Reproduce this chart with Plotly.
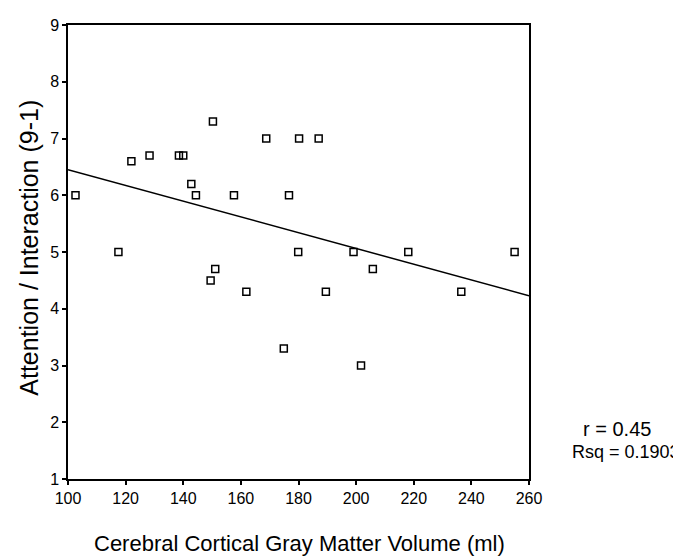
import plotly.graph_objects as go

# Data
gray_matter_ml = [102.6, 122.0, 128.3, 138.5, 140.0, 150.3, 168.8, 180.2, 187.0,
                  142.8, 144.4, 157.6, 176.7, 117.5, 151.1, 149.5, 161.9, 179.9,
                  189.5, 199.1, 205.8, 218.1, 236.5, 255.0, 174.9, 201.7]
attention_score = [6.0, 6.6, 6.7, 6.7, 6.7, 7.3, 7.0, 7.0, 7.0,
                   6.2, 6.0, 6.0, 6.0, 5.0, 4.7, 4.5, 4.3, 5.0,
                   4.3, 5.0, 4.7, 5.0, 4.3, 5.0, 3.3, 3.0]

fit_x = [100, 260]
fit_y = [6.45, 4.23]

x_ticks = [100, 120, 140, 160, 180, 200, 220, 240, 260]
y_ticks = [1, 2, 3, 4, 5, 6, 7, 8, 9]

x_title = "Cerebral Cortical Gray Matter Volume (ml)"
y_title = "Attention / Interaction (9-1)"
r_text = "r = 0.45"
rsq_text = "Rsq = 0.1903"

FONT = "Liberation Sans, Arial, sans-serif"

fig = go.Figure()
fig.add_trace(go.Scatter(
    x=fit_x, y=fit_y, mode="lines",
    line=dict(color="black", width=1.5), showlegend=False, hoverinfo="skip"))
fig.add_trace(go.Scatter(
    x=gray_matter_ml, y=attention_score, mode="markers",
    marker=dict(symbol="square-open", size=7, color="black", line=dict(width=1.5, color="black")),
    showlegend=False))

axis_common = dict(
    showgrid=False, zeroline=False, showline=True, linecolor="black", linewidth=1.5,
    mirror=True, ticks="outside", ticklen=4, tickwidth=1.5, tickcolor="black",
    tickfont=dict(family=FONT, size=16, color="black"),
)

fig.update_xaxes(range=[100, 260], tickvals=x_ticks, ticktext=[str(v) for v in x_ticks], **axis_common)
fig.update_yaxes(range=[1, 9], tickvals=y_ticks, ticktext=[str(v) for v in y_ticks], **axis_common)

fig.add_annotation(text=x_title, xref="paper", yref="paper", x=0.503, y=-0.174,
                   showarrow=False, xanchor="center", yanchor="bottom",
                   font=dict(family=FONT, size=22, color="black"))
fig.add_annotation(text=y_title, xref="paper", yref="paper", x=-0.085, y=0.509,
                   showarrow=False, xanchor="center", yanchor="middle", textangle=-90,
                   font=dict(family=FONT, size=25, color="black"))
fig.add_annotation(text=r_text, xref="paper", yref="paper", x=1.191, y=0.1104,
                   showarrow=False, xanchor="center", yanchor="middle",
                   font=dict(family=FONT, size=20, color="black"))
fig.add_annotation(text=rsq_text, xref="paper", yref="paper", x=1.211, y=0.0600,
                   showarrow=False, xanchor="center", yanchor="middle",
                   font=dict(family=FONT, size=18, color="black"))

# The page body has an 8px default margin, so the figure is sized to fill
# exactly the 681x560 window from that offset.
fig.update_layout(
    width=673, height=552,
    margin=dict(l=60, r=152, t=9, b=81),
    paper_bgcolor="white", plot_bgcolor="white",
    font=dict(family=FONT, color="black"),
)

fig.write_html("out.html")
